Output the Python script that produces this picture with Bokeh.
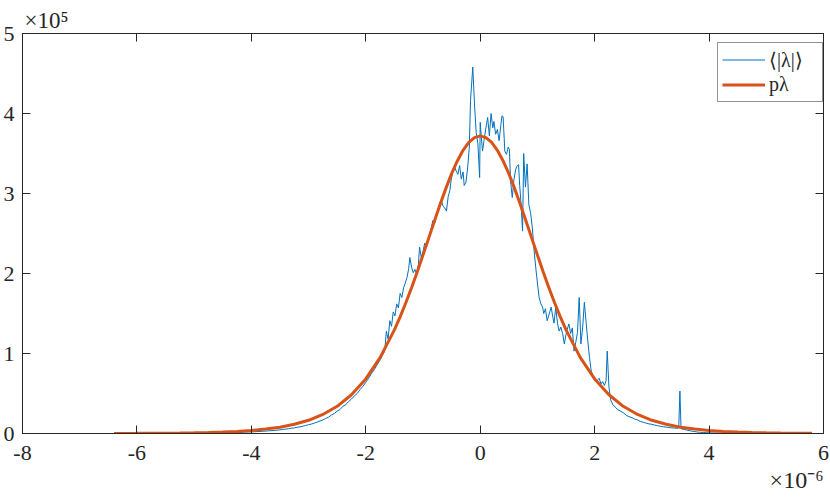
from bokeh.plotting import figure
from bokeh.models import FixedTicker, LinearAxis, Legend, LegendItem, Range1d, Title
from bokeh.embed import file_html
from bokeh.resources import INLINE

# ---------------- data (x in units of 1e-6, y in units of 1e5) ----------------
blue_x = [-4.60, -4.50, -4.40, -4.30, -4.20, -4.10, -4.00, -3.90, -3.80, -3.70,
          -3.60, -3.50, -3.45, -3.40, -3.35, -3.30, -3.25, -3.20, -3.15, -3.10,
          -3.05, -3.00, -2.95, -2.90, -2.85, -2.80, -2.75, -2.70, -2.65, -2.60,
          -2.55, -2.50, -2.45, -2.40, -2.35, -2.30, -2.25, -2.20, -2.15, -2.10,
          -2.05, -2.00, -1.95, -1.90, -1.85, -1.80, -1.75, -1.70, -1.67,
          -1.64, -1.61, -1.58, -1.55, -1.52, -1.49, -1.46, -1.43, -1.40, -1.37,
          -1.34, -1.31, -1.28, -1.25, -1.23, -1.20, -1.17, -1.14, -1.11, -1.08,
          -1.06, -1.03, -1.00, -0.97, -0.94, -0.91, -0.88, -0.85, -0.83, -0.80,
          -0.77, -0.74, -0.71, -0.68, -0.65, -0.62, -0.59, -0.56, -0.53, -0.51,
          -0.48, -0.45, -0.42, -0.39, -0.36, -0.33, -0.30, -0.28, -0.25, -0.22,
          -0.19, -0.17, -0.13, -0.10, -0.07, -0.04, -0.01, 0.00, 0.02, 0.04,
          0.07, 0.10, 0.13, 0.16, 0.19, 0.22, 0.24, 0.27, 0.30, 0.33,
          0.36, 0.38, 0.40, 0.43, 0.46, 0.49, 0.51, 0.53, 0.56, 0.59,
          0.62, 0.64, 0.67, 0.69, 0.71, 0.74, 0.76, 0.79, 0.82, 0.85,
          0.88, 0.91, 0.94, 0.97, 1.00, 1.03, 1.06, 1.09, 1.11, 1.14,
          1.17, 1.20, 1.24, 1.27, 1.29, 1.32, 1.35, 1.38, 1.41, 1.44,
          1.47, 1.50, 1.52, 1.55, 1.58, 1.61, 1.64, 1.67, 1.70, 1.73,
          1.76, 1.79, 1.82, 1.85, 1.88, 1.91, 1.94, 1.97, 2.00, 2.04,
          2.08, 2.11, 2.14, 2.17, 2.20, 2.22, 2.25, 2.28, 2.32, 2.36,
          2.40, 2.45, 2.50, 2.55, 2.60, 2.65, 2.70, 2.75, 2.80, 2.85,
          2.90, 2.95, 3.00, 3.05, 3.10, 3.15, 3.20, 3.25, 3.30, 3.35,
          3.40, 3.45, 3.47, 3.49, 3.51, 3.55, 3.60, 3.65, 3.70, 3.75,
          3.80, 3.85, 3.90, 3.95, 4.00, 4.05, 4.10, 4.15, 4.20]
blue_y = [0.006, 0.010, 0.009, 0.014, 0.013, 0.018, 0.020, 0.024, 0.028, 0.033,
          0.038, 0.046, 0.050, 0.055, 0.060, 0.066, 0.070, 0.078, 0.083, 0.092,
          0.100, 0.110, 0.118, 0.130, 0.142, 0.156, 0.170, 0.188, 0.205, 0.232,
          0.250, 0.280, 0.300, 0.340, 0.360, 0.400, 0.430, 0.470, 0.500, 0.550,
          0.590, 0.640, 0.690, 0.750, 0.800, 0.860, 0.920, 0.990, 1.03,
          1.28, 1.18, 1.41, 1.34, 1.52, 1.47, 1.62, 1.57, 1.75, 1.70,
          1.82, 1.88, 1.95, 2.06, 2.20, 2.08, 2.01, 2.05, 1.99, 2.12,
          2.33, 2.20, 2.27, 2.38, 2.34, 2.42, 2.50, 2.58, 2.66, 2.62,
          2.70, 2.80, 2.87, 2.92, 2.84, 2.82, 2.78, 2.96, 3.04, 3.16,
          3.27, 3.34, 3.28, 3.24, 3.35, 3.18, 3.27, 3.10, 3.14, 3.32,
          3.58, 4.16, 4.58, 4.12, 3.76, 3.62, 3.20, 3.89, 3.70, 3.53,
          3.68, 3.82, 3.95, 3.72, 4.00, 3.82, 3.90, 3.74, 3.80, 3.66,
          3.85, 3.97, 3.96, 3.53, 3.49, 3.58, 3.55, 3.16, 2.95, 3.18,
          3.30, 3.34, 3.36, 3.10, 2.91, 2.53, 3.50, 3.08, 3.37, 2.86,
          2.76, 2.58, 2.30, 2.08, 1.88, 1.70, 1.62, 1.58, 1.50, 1.56,
          1.41, 1.48, 1.58, 1.45, 1.38, 1.58, 1.38, 1.28, 1.33, 1.25,
          1.12, 1.24, 1.30, 1.37, 1.25, 1.32, 1.03, 1.14, 1.26, 1.70,
          1.12, 1.32, 1.64, 1.40, 1.16, 0.95, 0.78, 0.72, 0.68, 0.66,
          0.69, 0.62, 0.65, 0.60, 0.66, 1.03, 0.58, 0.42, 0.36, 0.33,
          0.30, 0.28, 0.26, 0.23, 0.21, 0.20, 0.18, 0.17, 0.15, 0.14,
          0.13, 0.12, 0.115, 0.105, 0.098, 0.090, 0.084, 0.080, 0.075, 0.070,
          0.068, 0.065, 0.070, 0.53, 0.060, 0.052, 0.045, 0.036, 0.030, 0.024,
          0.018, 0.015, 0.012, 0.010, 0.009, 0.007, 0.006, 0.005, 0.004]

orange_x = [-6.40, -6.25, -6.00, -5.75, -5.50, -5.25, -5.00, -4.75, -4.50, -4.25,
            -4.00, -3.75, -3.50, -3.25, -3.00, -2.75, -2.50, -2.25, -2.00, -1.75,
            -1.50, -1.40, -1.30, -1.20, -1.10, -1.00, -0.90, -0.80, -0.70, -0.60,
            -0.50, -0.40, -0.30, -0.20, -0.10, 0.00, 0.10, 0.20, 0.30, 0.40,
            0.50, 0.60, 0.70, 0.80, 0.90, 1.00, 1.10, 1.20, 1.30, 1.40,
            1.50, 1.75, 2.00, 2.25, 2.50, 2.75, 3.00, 3.25, 3.50, 3.75,
            4.00, 4.25, 4.50, 4.75, 5.00, 5.25, 5.50, 5.80]
orange_y = [0.0010, 0.0013, 0.0019, 0.0028, 0.0040, 0.0059, 0.0085, 0.0124, 0.018, 0.026,
            0.038, 0.055, 0.079, 0.115, 0.165, 0.238, 0.340, 0.484, 0.682, 0.948,
            1.295, 1.458, 1.634, 1.823, 2.022, 2.230, 2.442, 2.656, 2.865, 3.064,
            3.248, 3.407, 3.540, 3.638, 3.699, 3.720, 3.699, 3.638, 3.540, 3.407,
            3.248, 3.064, 2.865, 2.656, 2.442, 2.230, 2.022, 1.823, 1.634, 1.458,
            1.295, 0.948, 0.682, 0.484, 0.340, 0.238, 0.165, 0.115, 0.079, 0.055,
            0.038, 0.026, 0.018, 0.0124, 0.0085, 0.0059, 0.0040, 0.0026]

x_ticks = [-8, -6, -4, -2, 0, 2, 4, 6]
x_tick_labels = ["-8", "-6", "-4", "-2", "0", "2", "4", "6"]
y_ticks = [0, 1, 2, 3, 4, 5]
y_tick_labels = ["0", "1", "2", "3", "4", "5"]
legend_labels = ["\u27e8|\u03bb|\u27e9", "p\u03bb"]
y_multiplier = "\u00d710\u2075"
x_multiplier = "\u00d710\u207b\u2076"

# ---------------- styling ----------------
AX = "#262626"
FONT = "Liberation Serif"
FS = "22px"

p = figure(width=830, height=499, output_backend="svg", toolbar_location=None,
           x_range=Range1d(-8, 6), y_range=Range1d(0, 5),
           min_border_left=20, min_border_right=7, min_border_top=33, min_border_bottom=66,
           background_fill_color="white", border_fill_color="white")
p.grid.visible = False
p.outline_line_color = AX
p.outline_line_width = 1

blue_r = p.line(blue_x, blue_y, line_color="#0072BD", line_width=1.0)
orange_r = p.line(orange_x, orange_y, line_color="#D95319", line_width=3)


def style_axis(ax, ticks, labels, standoff):
    ax.ticker = FixedTicker(ticks=ticks)
    ax.major_label_overrides = {t: l for t, l in zip(ticks, labels)}
    ax.axis_line_color = AX
    ax.axis_line_width = 1
    ax.major_tick_line_color = AX
    ax.major_tick_in = 8
    ax.major_tick_out = 0
    ax.minor_tick_line_color = None
    ax.major_label_text_font = FONT
    ax.major_label_text_color = AX
    ax.major_label_text_font_size = FS
    ax.major_label_standoff = standoff


def mirror_axis(ax, ticks):
    # box-side axis: ticks only (drawn as minor ticks, so no labels exist)
    ax.ticker = FixedTicker(ticks=[], minor_ticks=ticks)
    ax.axis_line_color = AX
    ax.axis_line_width = 1
    ax.major_tick_line_color = None
    ax.minor_tick_line_color = AX
    ax.minor_tick_in = 8
    ax.minor_tick_out = 0
    ax.major_label_standoff = 0
    ax.major_label_text_font_size = "1px"


style_axis(p.xaxis[0], x_ticks, x_tick_labels, 12)
style_axis(p.yaxis[0], y_ticks, y_tick_labels, 8)
top_ax = LinearAxis()
right_ax = LinearAxis()
mirror_axis(top_ax, x_ticks)
mirror_axis(right_ax, y_ticks)
p.add_layout(top_ax, "above")
p.add_layout(right_ax, "right")

# multiplier texts (as titles so they sit outside the frame)
p.title.text = y_multiplier
p.title.align = "left"
p.title.offset = 2
p.title.standoff = 2
p.title.text_font = FONT
p.title.text_font_size = "23px"
p.title.text_font_style = "normal"
p.title.text_color = AX

xt = Title(text=x_multiplier, align="right", offset=0, standoff=4,
           text_font=FONT, text_font_size="24px", text_font_style="normal", text_color=AX)
p.add_layout(xt, "below")

legend = Legend(items=[LegendItem(label=legend_labels[0], renderers=[blue_r]),
                       LegendItem(label=legend_labels[1], renderers=[orange_r])],
                location=(695, 331), margin=0, padding=4, spacing=0,
                glyph_width=43, glyph_height=25, label_height=25, label_width=49,
                label_standoff=4,
                label_text_font=FONT, label_text_font_size="20px", label_text_color=AX,
                border_line_color=AX, border_line_width=1,
                background_fill_color="white", background_fill_alpha=1)
p.add_layout(legend)

open("out.html", "w").write(file_html(p, INLINE))
